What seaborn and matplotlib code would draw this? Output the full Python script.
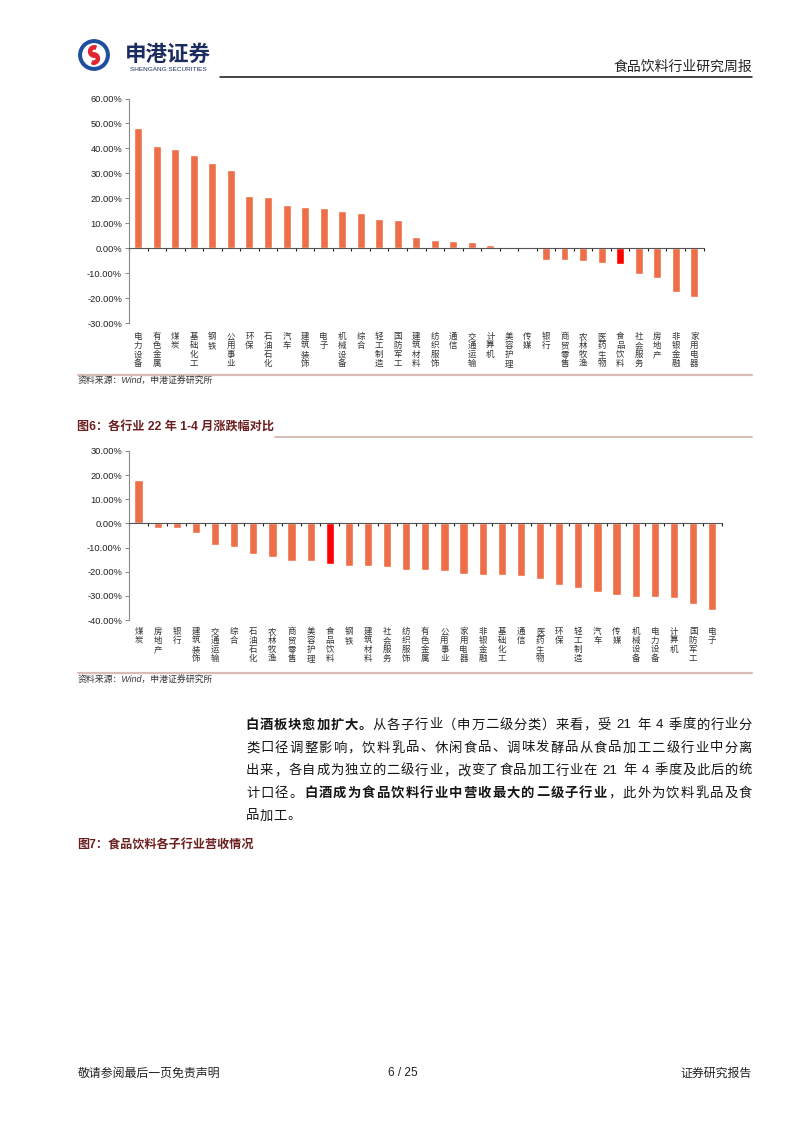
import numpy as np
import pandas as pd
import matplotlib
matplotlib.use("Agg")
import matplotlib.pyplot as plt
import seaborn as sns
from matplotlib.ticker import FixedLocator
from matplotlib.lines import Line2D
from matplotlib.patches import Circle, Wedge

# ---------------- data ----------------
top_cats = ["电力设备", "有色金属", "煤炭", "基础化工", "钢铁", "公用事业", "环保", "石油石化",
            "汽车", "建筑装饰", "电子", "机械设备", "综合", "轻工制造", "国防军工", "建筑材料",
            "纺织服饰", "通信", "交通运输", "计算机", "美容护理", "传媒", "银行", "商贸零售",
            "农林牧渔", "医药生物", "食品饮料", "社会服务", "房地产", "非银金融", "家用电器"]
top_vals = [48.3, 40.8, 39.9, 37.4, 34.2, 31.5, 20.8, 20.4, 17.3, 16.5, 16.1, 15.0, 14.0,
            11.8, 11.3, 4.6, 3.2, 3.0, 2.4, 1.2, 0.1, -0.5, -4.6, -4.6, -5.0, -5.8, -6.3,
            -10.3, -11.9, -17.6, -19.6]

bot_cats = ["煤炭", "房地产", "银行", "建筑装饰", "交通运输", "综合", "石油石化", "农林牧渔",
            "商贸零售", "美容护理", "食品饮料", "钢铁", "建筑材料", "社会服务", "纺织服饰", "有色金属",
            "公用事业", "家用电器", "非银金融", "基础化工", "通信", "医药生物", "环保", "轻工制造",
            "汽车", "传媒", "机械设备", "电力设备", "计算机", "国防军工", "电子"]
bot_vals = [18.0, -1.7, -1.9, -3.9, -9.0, -9.7, -12.8, -13.7, -15.6, -15.7, -17.0, -17.5,
            -17.7, -18.2, -19.2, -19.2, -19.8, -20.9, -21.5, -21.5, -21.9, -23.1, -25.6,
            -26.7, -28.4, -29.8, -30.3, -30.4, -31.0, -33.3, -35.7]

top_yticks = [60, 50, 40, 30, 20, 10, 0, -10, -20, -30]
bot_yticks = [30, 20, 10, 0, -10, -20, -30, -40]
highlight = "食品饮料"

header_title = "食品饮料行业研究周报"
source_text = "资料来源：Wind，申港证券研究所"
fig6_title = "图6：各行业 22 年 1-4 月涨跌幅对比"
fig7_title = "图7：食品饮料各子行业营收情况"
para_lines = [
    [("白酒板块愈加扩大。", True), ("从各子行业（申万二级分类）来看，受 21 年 4 季度的行业分", False)],
    [("类口径调整影响，饮料乳品、休闲食品、调味发酵品从食品加工二级行业中分离", False)],
    [("出来，各自成为独立的二级行业，改变了食品加工行业在 21 年 4 季度及此后的统", False)],
    [("计口径。", False), ("白酒成为食品饮料行业中营收最大的二级子行业", True), ("，此外为饮料乳品及食", False)],
    [("品加工。", False)],
]
footer_left = "敬请参阅最后一页免责声明"
footer_mid = "6 / 25"
footer_right = "证券研究报告"

# ---------------- style ----------------
sns.set_theme(style="white")
plt.rcParams["font.family"] = ["Liberation Sans", "Noto Sans CJK SC", "DejaVu Sans"]
CJK = ["Noto Sans CJK SC", "DejaVu Sans"]
MIX = ["Liberation Sans", "Noto Sans CJK SC", "DejaVu Sans"]

W, H = 802, 1133
fig = plt.figure(figsize=(W / 100, H / 100), dpi=100)
fig.patch.set_facecolor("white")

BAR = "#EE6E47"
RED = "#FF0000"
MAROON = "#6B1F1F"
SEP = "#D8BDB6"


def fx(x):
    return x / W


def fy(y):
    return 1 - y / H


def hline(x0, x1, y, color, lw):
    fig.add_artist(Line2D([fx(x0), fx(x1)], [fy(y), fy(y)], color=color, lw=lw,
                          transform=fig.transFigure))


def bar_chart(cats, vals, yticks, left, right, top, bottom, pad):
    ax = fig.add_axes([fx(left), fy(bottom), fx(right) - fx(left), fy(top) - fy(bottom)])
    df = pd.DataFrame({"cat": cats, "val": vals})
    pal = {c: (RED if c == highlight else BAR) for c in cats}
    sns.barplot(data=df, x="cat", y="val", hue="cat", palette=pal, legend=False,
                width=0.43, saturation=1, ax=ax, order=cats, hue_order=cats)
    n = len(cats)
    ax.set_xlim(-0.5, n - 0.5)
    ax.set_ylim(min(yticks), max(yticks))
    ax.set_yticks(yticks)
    ax.set_yticklabels([f"{v:.2f}%" for v in yticks], fontsize=6.7, color="#222222",
                       family=MIX)
    ax.tick_params(axis="y", which="major", left=True, length=3, width=0.7,
                   color="#888888", direction="out", pad=2)
    ax.set_xlabel("")
    ax.set_ylabel("")
    for s in ["top", "right"]:
        ax.spines[s].set_visible(False)
    ax.spines["left"].set_color("#8a8a8a")
    ax.spines["left"].set_linewidth(0.8)
    ax.spines["bottom"].set_position(("data", 0))
    ax.spines["bottom"].set_color("#555555")
    ax.spines["bottom"].set_linewidth(0.8)
    ax.xaxis.set_minor_locator(FixedLocator(np.arange(-0.5, n, 1.0)))
    ax.tick_params(axis="x", which="major", length=0, labelbottom=False, bottom=False)
    ax.tick_params(axis="x", which="minor", bottom=True, length=2.5, width=0.8,
                   color="#222222", direction="out")
    ax.grid(False)
    ax.set_facecolor("none")
    sec = ax.secondary_xaxis("bottom")
    sec.set_xticks(range(n))
    sec.set_xticklabels(["\n".join(c) for c in cats], fontsize=6.1, color="#333333",
                        family=CJK, linespacing=1.0, va="top")
    sec.tick_params(length=0, pad=pad)
    sec.spines["bottom"].set_visible(False)
    return ax


bar_chart(top_cats, top_vals, top_yticks, 129, 703.5, 98.5, 323, 6.5)
bar_chart(bot_cats, bot_vals, bot_yticks, 129, 721.7, 451, 620, 5.0)

# ---------------- header ----------------
ax_logo = fig.add_axes([fx(78), fy(72), fx(32) - fx(0), fy(38) - fy(72)])
ax_logo.set_xlim(-1, 1)
ax_logo.set_ylim(-1, 1)
ax_logo.set_aspect("equal")
ax_logo.axis("off")
ax_logo.add_patch(Circle((0, 0), 0.95, color="#1E4F9C"))
ax_logo.add_patch(Circle((0, 0), 0.70, color="white"))
ax_logo.add_patch(Wedge((0.02, 0.22), 0.36, 70, 290, width=0.2, color="#E0262E"))
ax_logo.add_patch(Wedge((-0.02, -0.22), 0.36, 250, 110, width=0.2, color="#E0262E"))
fig.text(fx(168), fy(54.5), "申港证券", fontsize=15.5, fontweight="bold", color="#1B2C5E",
         family=CJK, ha="center", va="center")
fig.text(fx(168), fy(69.5), "SHENGANG SECURITIES", fontsize=4.6, color="#1B2C5E",
         family=MIX, ha="center", va="center")
fig.text(fx(752), fy(67), header_title, fontsize=10, color="#222222", family=CJK,
         ha="right", va="center")
hline(220, 752, 76.5, "#111111", 1.1)

# ---------------- separators / titles ----------------
hline(78, 752, 375, SEP, 1.6)
fig.text(fx(78), fy(381.5), source_text, fontsize=6.4, color="#333333", family=MIX,
         ha="left", va="center", style="italic")
fig.text(fx(77), fy(428), fig6_title, fontsize=8.7, fontweight="bold", color=MAROON,
         family=MIX, ha="left", va="center")
hline(275, 752, 437, SEP, 1.4)
hline(78, 752, 673, SEP, 1.6)
fig.text(fx(78), fy(680), source_text, fontsize=6.4, color="#333333", family=MIX,
         ha="left", va="center", style="italic")
fig.text(fx(77), fy(845.5), fig7_title, fontsize=8.7, fontweight="bold", color=MAROON,
         family=MIX, ha="left", va="center")

# ---------------- paragraph ----------------
def tokenize(line):
    toks = []
    for seg, bold in line:
        i = 0
        while i < len(seg):
            ch = seg[i]
            if ch.isdigit():
                j = i
                while j < len(seg) and seg[j].isdigit():
                    j += 1
                toks.append((seg[i:j], bold, 0.58 * (j - i)))
                i = j
            elif ch == " ":
                toks.append((" ", bold, 0.32))
                i += 1
            else:
                toks.append((ch, bold, 1.0))
                i += 1
    return toks


x_start, x_end = 245.5, 752.5
line_y = [725.5, 748.5, 771, 793.5, 816.5]
for k, line in enumerate(para_lines):
    toks = tokenize(line)
    units = sum(t[2] for t in toks)
    pitch = (x_end - x_start) / units if k < len(para_lines) - 1 else 14.0
    x = x_start
    for txt, bold, w in toks:
        if txt != " ":
            fig.text(fx(x + w * pitch / 2), fy(line_y[k]), txt, fontsize=9.6,
                     fontweight="bold" if bold else "normal", color="#151515",
                     family=MIX, ha="center", va="center")
        x += w * pitch

# ---------------- footer ----------------
fig.text(fx(78), fy(1073), footer_left, fontsize=8.6, color="#222222", family=CJK,
         ha="left", va="center")
fig.text(fx(403), fy(1073), footer_mid, fontsize=8.6, color="#222222", family=MIX,
         ha="center", va="center")
fig.text(fx(752), fy(1073), footer_right, fontsize=8.6, color="#222222", family=CJK,
         ha="right", va="center")

fig.savefig("out.png", dpi=100, facecolor="white")
